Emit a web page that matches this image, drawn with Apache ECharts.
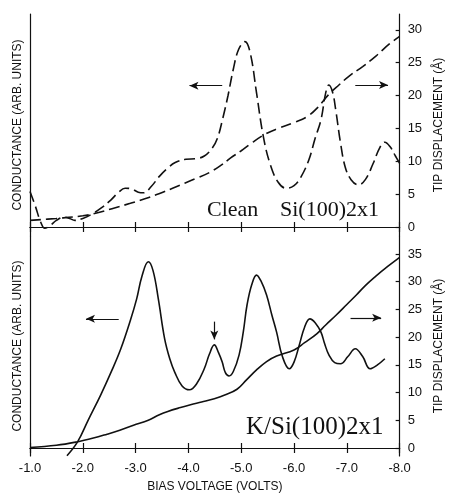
<!DOCTYPE html>
<html>
<head>
<meta charset="utf-8">
<script src="https://cdn.jsdelivr.net/npm/echarts@6/dist/echarts.min.js"></script>
<style>
  html, body { margin: 0; padding: 0; background: #fff; }
  #chart { width: 453px; height: 494px; }
</style>
</head>
<body>
<div id="chart"></div>
<script>
// 偏压 (V) 与曲线读数
const cleanCondV = [-1.00, -1.10, -1.20, -1.28, -1.38, -1.50, -1.65, -1.75, -1.85, -2.00, -2.16, -2.35, -2.53, -2.68, -2.80, -2.92, -3.05, -3.15, -3.30, -3.45, -3.60, -3.75, -3.95, -4.15, -4.30, -4.45, -4.55, -4.65, -4.75, -4.85, -4.95, -5.07, -5.17, -5.29, -5.42, -5.55, -5.70, -5.85, -6.00, -6.13, -6.28, -6.40, -6.51, -6.60, -6.66, -6.73, -6.79, -6.88, -6.97, -7.08, -7.22, -7.35, -7.50, -7.62, -7.72, -7.82, -7.92, -8.00];
const cleanCond  = [5.4, 3.2, 0.8, -0.2, 0.2, 1.0, 1.5, 1.3, 1.0, 1.3, 1.9, 2.9, 4.1, 5.3, 5.9, 5.8, 5.3, 5.2, 6.2, 7.7, 8.9, 9.8, 10.3, 10.4, 10.8, 12.0, 13.5, 16.5, 20.0, 24.0, 27.0, 28.2, 26.5, 20.4, 13.7, 9.5, 6.8, 5.9, 6.3, 7.6, 10.2, 13.5, 16.3, 20.4, 21.6, 20.5, 17.8, 12.8, 9.1, 7.2, 6.4, 7.2, 9.7, 12.0, 12.9, 12.2, 10.8, 9.7];

const cleanTipV = [-1.00, -1.50, -2.00, -2.30, -2.60, -2.90, -3.25, -3.55, -3.85, -4.15, -4.40, -4.60, -4.80, -5.00, -5.20, -5.45, -5.70, -6.00, -6.25, -6.45, -6.65, -6.85, -7.05, -7.30, -7.55, -7.80, -8.00];
const cleanTip  = [1.0, 1.3, 1.7, 2.2, 2.9, 3.6, 4.5, 5.4, 6.4, 7.4, 8.3, 9.3, 10.5, 11.6, 12.8, 14.1, 15.0, 15.9, 16.8, 18.2, 20.1, 21.6, 23.0, 24.4, 26.0, 27.8, 29.0];

const kCondV = [-1.70, -1.90, -2.10, -2.34, -2.55, -2.72, -2.90, -3.02, -3.12, -3.24, -3.33, -3.43, -3.55, -3.65, -3.74, -3.88, -4.02, -4.15, -4.30, -4.40, -4.49, -4.57, -4.64, -4.70, -4.77, -4.85, -4.96, -5.04, -5.11, -5.20, -5.29, -5.38, -5.48, -5.58, -5.67, -5.78, -5.91, -6.00, -6.10, -6.20, -6.30, -6.40, -6.51, -6.58, -6.66, -6.77, -6.88, -7.02, -7.16, -7.30, -7.44, -7.58, -7.72];
const kCond  = [-1.4, 1.1, 5.0, 9.6, 14.0, 17.9, 23.0, 26.9, 31.0, 33.6, 32.0, 26.9, 19.7, 16.0, 13.7, 11.2, 10.5, 11.5, 14.3, 17.0, 18.6, 17.2, 15.5, 13.6, 13.0, 13.8, 16.8, 21.0, 25.8, 29.5, 31.2, 30.0, 27.6, 24.0, 20.9, 16.5, 14.3, 15.5, 18.6, 21.8, 23.3, 22.6, 20.9, 18.8, 16.8, 15.4, 15.2, 16.5, 17.9, 16.5, 14.3, 15.0, 16.1];

const kTipV = [-1.00, -1.50, -1.88, -2.20, -2.46, -2.70, -2.96, -3.24, -3.45, -3.61, -3.85, -4.04, -4.25, -4.49, -4.70, -4.92, -5.10, -5.29, -5.48, -5.67, -6.00, -6.20, -6.43, -6.60, -6.80, -7.00, -7.18, -7.35, -7.55, -7.78, -8.00];
const kTip  = [0.1, 0.5, 1.1, 1.8, 2.5, 3.2, 4.1, 5.0, 6.0, 6.6, 7.3, 7.8, 8.3, 8.9, 9.6, 10.6, 12.3, 14.1, 15.6, 16.6, 17.7, 19.0, 20.6, 22.2, 24.0, 25.9, 27.6, 29.3, 31.0, 32.8, 34.4];

const cleanTipTicks = [0, 5, 10, 15, 20, 25, 30];
const kTipTicks = [0, 5, 10, 15, 20, 25, 30, 35];

const ink = '#111';
const zip = (xs, ys) => xs.map((x, i) => [x, ys[i]]);

const chart = echarts.init(document.getElementById('chart'));

const xBase = (gridIndex, position, withLabel) => ({
  type: 'value',
  gridIndex,
  position,
  min: -8,
  max: -1,
  interval: 1,
  inverse: true,
  axisLine: { show: true, lineStyle: { color: ink, width: 1.2 } },
  axisTick: { show: true, inside: true, length: 5, lineStyle: { color: ink, width: 1.2 } },
  axisLabel: {
    show: withLabel,
    color: ink,
    fontFamily: 'Liberation Sans',
    fontSize: 13,
    margin: 6,
    formatter: v => v.toFixed(1)
  },
  splitLine: { show: false }
})

const yLeft = (gridIndex, min, max) => ({
  type: 'value',
  gridIndex,
  position: 'left',
  min, max,
  name: 'CONDUCTANCE (ARB. UNITS)',
  nameLocation: 'middle',
  nameRotate: 90,
  nameGap: 6,
  nameTextStyle: { color: ink, fontFamily: 'Liberation Sans', fontSize: 12 },
  axisLine: { show: true, lineStyle: { color: ink, width: 1.2 } },
  axisTick: { show: false },
  axisLabel: { show: false },
  splitLine: { show: false }
})

const yRight = (gridIndex, min, max, ticks) => ({
  type: 'value',
  gridIndex,
  position: 'right',
  min, max,
  name: 'TIP DISPLACEMENT (Å)',
  nameLocation: 'middle',
  nameRotate: 90,
  nameGap: 32,
  nameTextStyle: { color: ink, fontFamily: 'Liberation Sans', fontSize: 12 },
  axisLine: { show: true, lineStyle: { color: ink, width: 1.2 } },
  axisTick: { show: true, inside: true, length: 4, customValues: ticks, lineStyle: { color: ink, width: 1.2 } },
  axisLabel: { show: true, customValues: ticks, color: ink, fontFamily: 'Liberation Sans', fontSize: 13, margin: 8 },
  splitLine: { show: false }
})

// 箭头标注
const arrow = (from, to) => [{ coord: from }, { coord: to }]
const arrowStyle = {
  silent: true,
  symbol: ['none', 'arrow'],
  symbolSize: [6, 9],
  label: { show: false },
  lineStyle: { color: ink, type: 'solid', width: 1.2 }
}

const lineSeries = (name, data, xi, yi, dashed, marks) => ({
  name,
  type: 'line',
  xAxisIndex: xi,
  yAxisIndex: yi,
  data,
  smooth: 0.4,
  showSymbol: false,
  lineStyle: { color: ink, width: 1.6, type: dashed ? [11, 5] : 'solid' },
  markLine: marks ? Object.assign({ data: marks }, arrowStyle) : undefined
})

const option = {
  animation: false,
  backgroundColor: '#fff',
  grid: [
    { left: 30, right: 48, top: 14, height: 222 },
    { left: 30, right: 48, top: 236, height: 220 }
  ],
  xAxis: [
    xBase(0, 'bottom', false),
    xBase(0, 'top', false),
    xBase(1, 'top', false),
    Object.assign(xBase(1, 'bottom', true), {
      name: 'BIAS VOLTAGE (VOLTS)',
      nameLocation: 'middle',
      nameGap: 25,
      nameTextStyle: { color: ink, fontFamily: 'Liberation Sans', fontSize: 12 }
    })
  ],
  yAxis: [
    yLeft(0, -1.37, 32.4),
    yRight(0, -1.37, 32.4, cleanTipTicks),
    yLeft(1, -1.44, 38.25),
    yRight(1, -1.44, 38.25, kTipTicks)
  ],
  series: [
    lineSeries('Clean conductance', zip(cleanCondV, cleanCond), 0, 0, true,
      [arrow([-4.64, 21.5], [-4.02, 21.5])]),
    lineSeries('Clean tip displacement', zip(cleanTipV, cleanTip), 0, 1, true,
      [arrow([-7.16, 21.6], [-7.78, 21.6])]),
    lineSeries('K conductance', zip(kCondV, kCond), 3, 2, false,
      [arrow([-2.68, 23.3], [-2.06, 23.3]), arrow([-4.49, 22.8], [-4.49, 19.6])]),
    lineSeries('K tip displacement', zip(kTipV, kTip), 3, 3, false,
      [arrow([-7.07, 23.5], [-7.65, 23.5])])
  ],
  graphic: [
    { type: 'text', left: 207, top: 199, style: { text: 'Clean', font: '22px "Liberation Serif"', fill: ink } },
    { type: 'text', left: 280, top: 199, style: { text: 'Si(100)2x1', font: '22px "Liberation Serif"', fill: ink } },
    { type: 'text', left: 246, top: 415, style: { text: 'K/Si(100)2x1', font: '25px "Liberation Serif"', fill: ink } }
  ]
}

chart.setOption(option)
</script>
</body>
</html>
